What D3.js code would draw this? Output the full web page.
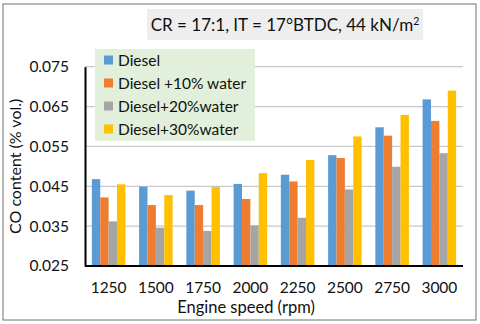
<!DOCTYPE html>
<html>
<head>
<meta charset="utf-8">
<script src="https://cdn.jsdelivr.net/npm/d3@7"></script>
<style>
  body { margin: 0; background: #fff; }
  svg { display: block; font-family: Lato, "Open Sans", sans-serif; }
</style>
</head>
<body>
<div id="chart"></div>
<script>
// Data
const speeds = ["1250", "1500", "1750", "2000", "2250", "2500", "2750", "3000"];
const seriesNames = ["Diesel", "Diesel +10% water", "Diesel+20%water", "Diesel+30%water"];
const diesel   = [0.0468, 0.0449, 0.0439, 0.0456, 0.0479, 0.0528, 0.0598, 0.0668];
const water10  = [0.0422, 0.0403, 0.0403, 0.0418, 0.0462, 0.0521, 0.0577, 0.0614];
const water20  = [0.0362, 0.0346, 0.0338, 0.0352, 0.0371, 0.0442, 0.0499, 0.0533];
const water30  = [0.0455, 0.0428, 0.0448, 0.0483, 0.0516, 0.0575, 0.0629, 0.0690];
const yTicks = [0.025, 0.035, 0.045, 0.055, 0.065, 0.075];
const colors = ["#5b9bd5", "#ed7d31", "#a5a5a5", "#ffc000"];

const allSeries = [diesel, water10, water20, water30];

const w = 480, h = 324;
const margin = { top: 66.7, right: 17, bottom: 58, left: 85 };

const svg = d3.select("#chart").append("svg")
    .attr("width", w)
    .attr("height", h);

// Outer frame
svg.append("rect")
    .attr("x", 3).attr("y", 4)
    .attr("width", 473).attr("height", 316)
    .attr("fill", "#fff")
    .attr("stroke", "#707070")
    .attr("stroke-width", 1);

const x0 = d3.scaleBand()
    .domain(speeds)
    .range([margin.left, w - margin.right])
    .paddingInner(0.29)
    .paddingOuter(0.145);

const x1 = d3.scaleBand()
    .domain(d3.range(seriesNames.length))
    .range([0, x0.bandwidth()]);

const y = d3.scaleLinear()
    .domain([0.025, 0.075])
    .range([h - margin.bottom, margin.top]);

// Gridlines
svg.append("g")
    .selectAll("line")
    .data(yTicks.slice(1))
    .enter()
    .append("line")
    .attr("x1", margin.left)
    .attr("x2", w - margin.right)
    .attr("y1", d => y(d))
    .attr("y2", d => y(d))
    .attr("stroke", "#c8c8c8")
    .attr("stroke-width", 1.2);

// Bars
const groups = svg.append("g")
    .selectAll("g")
    .data(speeds)
    .enter()
    .append("g")
    .attr("transform", d => `translate(${x0(d)},0)`);

groups.selectAll("rect")
    .data((d, i) => allSeries.map((s, k) => ({ k: k, v: s[i] })))
    .enter()
    .append("rect")
    .attr("x", d => x1(d.k))
    .attr("width", x1.bandwidth())
    .attr("y", d => y(d.v))
    .attr("height", d => y(0.025) - y(d.v))
    .attr("fill", d => colors[d.k]);

// Y axis
const yAxis = d3.axisLeft(y)
    .tickValues(yTicks)
    .tickFormat(d3.format(".3f"))
    .tickSize(0)
    .tickPadding(16);

svg.append("g")
    .attr("transform", `translate(${margin.left},0)`)
    .call(yAxis)
    .call(g => g.select(".domain").attr("stroke", "#000").attr("stroke-width", 2))
    .call(g => g.selectAll("text").attr("font-size", 15.5).attr("fill", "#111").attr("font-family", "Lato"));

// X axis
const xAxis = d3.axisBottom(x0)
    .tickSize(0)
    .tickPadding(16);

svg.append("g")
    .attr("transform", `translate(0,${h - margin.bottom})`)
    .call(xAxis)
    .call(g => g.select(".domain").attr("d", `M${margin.left},0H${w - margin.right}`).attr("stroke", "#000").attr("stroke-width", 2))
    .call(g => g.selectAll("text").attr("font-size", 15.5).attr("fill", "#111").attr("font-family", "Lato"));

// Axis titles
svg.append("text")
    .attr("x", 246)
    .attr("y", 313)
    .attr("text-anchor", "middle")
    .attr("font-size", 16.5)
    .attr("fill", "#111")
    .text("Engine speed (rpm)");

svg.append("text")
    .attr("transform", `translate(21,${(margin.top + h - margin.bottom) / 2}) rotate(-90)`)
    .attr("text-anchor", "middle")
    .attr("font-size", 16)
    .attr("fill", "#111")
    .text("CO content (% vol.)");

// Title box
svg.append("rect")
    .attr("x", 147).attr("y", 9)
    .attr("width", 276).attr("height", 31)
    .attr("fill", "#eeeeee");

const title = svg.append("text")
    .attr("x", 285)
    .attr("y", 30.5)
    .attr("text-anchor", "middle")
    .attr("font-size", 17)
    .attr("fill", "#111");
title.append("tspan").text("CR = 17:1, IT = 17°BTDC, 44 kN/m");
title.append("tspan").attr("font-size", 10.5).attr("dy", -6).text("2");

// Legend
const legend = svg.append("g").attr("id", "legend");

legend.append("rect")
    .attr("x", 95).attr("y", 49)
    .attr("width", 160).attr("height", 92)
    .attr("fill", "#e2efda");

const items = legend.selectAll("g")
    .data(seriesNames)
    .enter()
    .append("g")
    .attr("transform", (d, i) => `translate(104,${60 + i * 23})`);

items.append("rect")
    .attr("x", 0).attr("y", -4.5)
    .attr("width", 9).attr("height", 9)
    .attr("fill", (d, i) => colors[i]);

items.append("text")
    .attr("x", 14)
    .attr("y", 5.5)
    .attr("font-size", 15.5)
    .attr("fill", "#111")
    .text(d => d);
</script>
</body>
</html>
